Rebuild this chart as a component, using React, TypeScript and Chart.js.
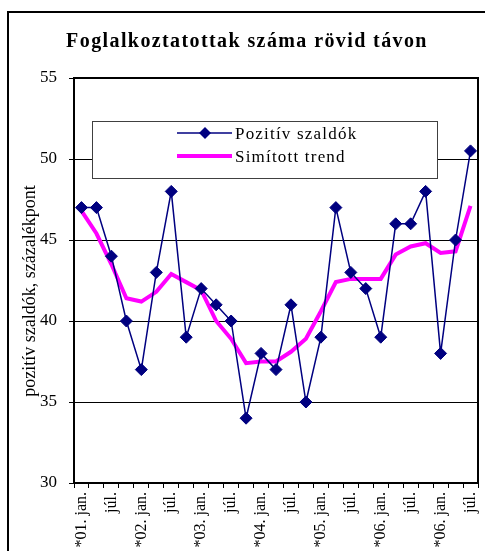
import { useEffect, useRef } from "react";
import { Chart, registerables } from "chart.js";

Chart.register(...registerables);

const chartTitle = "Foglalkoztatottak száma rövid távon";
const yAxisTitle = "pozitív szaldók, százalékpont";
const seriesNames = ["Pozitív szaldók", "Simított trend"];

const categories = [
  "*01. jan.", "", "júl.", "", "*02. jan.", "", "júl.", "",
  "*03. jan.", "", "júl.", "", "*04. jan.", "", "júl.", "",
  "*05. jan.", "", "júl.", "", "*06. jan.", "", "júl.", "",
  "*06. jan.", "", "júl.",
];

const positiveBalance = [
  47, 47, 44, 40, 37, 43, 48, 39, 42, 41, 40, 34, 38, 37, 41, 35,
  39, 47, 43, 42, 39, 46, 46, 48, 38, 45, 50.5,
];

const smoothedTrend = [
  46.8, 45.4, 43.5, 41.4, 41.2, 41.8, 42.9, 42.4, 41.9, 40.0, 38.9, 37.4,
  37.5, 37.5, 38.1, 38.9, 40.6, 42.4, 42.6, 42.6, 42.6, 44.1, 44.6, 44.8,
  44.2, 44.3, 47.1,
];

const yMin = 30;
const yMax = 55;
const yStep = 5;

const NAVY = "#000080";
const MAGENTA = "#FF00FF";
const SERIF = "'Liberation Serif', 'Times New Roman', serif";

const decorPlugin = {
  id: "decor",
  beforeDraw(chart: any) {
    const ctx = chart.ctx;
    ctx.save();
    ctx.fillStyle = "#fff";
    ctx.fillRect(0, 0, chart.width, chart.height);
    // outer frame
    ctx.strokeStyle = "#000";
    ctx.lineWidth = 2;
    ctx.strokeRect(8, 12, 600, 700);
    // title
    ctx.fillStyle = "#000";
    ctx.font = `bold 20px ${SERIF}`;
    (ctx as any).letterSpacing = "1.4px";
    ctx.textAlign = "center";
    ctx.textBaseline = "alphabetic";
    ctx.fillText(chartTitle, 247, 47);
    (ctx as any).letterSpacing = "0px";
    // y axis title
    ctx.translate(30, 291);
    ctx.rotate(-Math.PI / 2);
    ctx.font = `18px ${SERIF}`;
    ctx.textBaseline = "middle";
    ctx.fillText(yAxisTitle, 0, 0);
    ctx.restore();
  },
  afterDraw(chart: any) {
    const ctx = chart.ctx;
    const a = chart.chartArea;
    ctx.save();
    ctx.strokeStyle = "#000";
    ctx.lineWidth = 2;
    ctx.strokeRect(a.left, a.top, a.right - a.left, a.bottom - a.top);
    // legend box
    const lx = 92.5, ly = 121.5, lw = 345, lh = 57;
    ctx.fillStyle = "#fff";
    ctx.fillRect(lx, ly, lw, lh);
    ctx.strokeStyle = "#404040";
    ctx.lineWidth = 1;
    ctx.strokeRect(lx, ly, lw, lh);
    // item 1
    ctx.strokeStyle = NAVY;
    ctx.lineWidth = 1.5;
    ctx.beginPath();
    ctx.moveTo(177, 133);
    ctx.lineTo(232, 133);
    ctx.stroke();
    ctx.fillStyle = NAVY;
    ctx.beginPath();
    ctx.moveTo(205, 127);
    ctx.lineTo(211, 133);
    ctx.lineTo(205, 139);
    ctx.lineTo(199, 133);
    ctx.closePath();
    ctx.fill();
    // item 2
    ctx.strokeStyle = MAGENTA;
    ctx.lineWidth = 4;
    ctx.beginPath();
    ctx.moveTo(177, 156);
    ctx.lineTo(232, 156);
    ctx.stroke();
    ctx.fillStyle = "#000";
    ctx.font = `17px ${SERIF}`;
    (ctx as any).letterSpacing = "1.2px";
    ctx.textAlign = "left";
    ctx.textBaseline = "alphabetic";
    ctx.fillText(seriesNames[0], 235, 139);
    ctx.fillText(seriesNames[1], 235, 162);
    (ctx as any).letterSpacing = "0px";
    ctx.restore();
  },
};

export default function App() {
  const ref = useRef<HTMLCanvasElement>(null);
  useEffect(() => {
    if (!ref.current) return;
    const chart = new Chart(ref.current, {
      type: "line",
      data: {
        labels: categories,
        datasets: [
          {
            label: seriesNames[0],
            data: positiveBalance,
            borderColor: NAVY,
            backgroundColor: NAVY,
            borderWidth: 1.5,
            pointStyle: "rectRot",
            pointRadius: 6,
            pointBorderWidth: 1,
            pointBackgroundColor: NAVY,
            pointBorderColor: NAVY,
            tension: 0,
          },
          {
            label: seriesNames[1],
            data: smoothedTrend,
            borderColor: MAGENTA,
            backgroundColor: MAGENTA,
            borderWidth: 4,
            pointRadius: 0,
            tension: 0,
          },
        ],
      },
      options: {
        responsive: false,
        animation: false,
        devicePixelRatio: 1,
        layout: { padding: { top: 78, right: 2, left: 1, bottom: 0 } },
        plugins: {
          legend: { display: false },
          title: { display: false },
          tooltip: { enabled: false },
        },
        scales: {
          x: {
            type: "category",
            offset: true,
            grid: {
              offset: true,
              drawOnChartArea: false,
              drawTicks: true,
              tickLength: 5,
              color: "#000",
              lineWidth: 1,
            },
            border: { display: false },
            ticks: {
              autoSkip: false,
              maxRotation: 90,
              minRotation: 90,
              padding: 4,
              color: "#000",
              font: { family: SERIF, size: 16 },
            },
            afterFit: (s: any) => {
              s.height = 68;
              s.paddingLeft = 0;
              s.paddingRight = 0;
            },
          },
          y: {
            min: yMin,
            max: yMax,
            grid: {
              color: "#000",
              lineWidth: 1,
              drawTicks: true,
              tickLength: 5,
            },
            border: { display: false },
            ticks: {
              stepSize: yStep,
              padding: 12,
              color: "#000",
              font: { family: SERIF, size: 17 },
            },
            afterFit: (s: any) => {
              s.width = 73;
              s.paddingTop = 0;
              s.paddingBottom = 0;
            },
          },
        },
      },
      plugins: [decorPlugin],
    });
    return () => chart.destroy();
  }, []);
  return (
    <canvas
      ref={ref}
      width={485}
      height={551}
      style={{ position: "absolute", left: 0, top: 0, width: 485, height: 551 }}
    />
  );
}
